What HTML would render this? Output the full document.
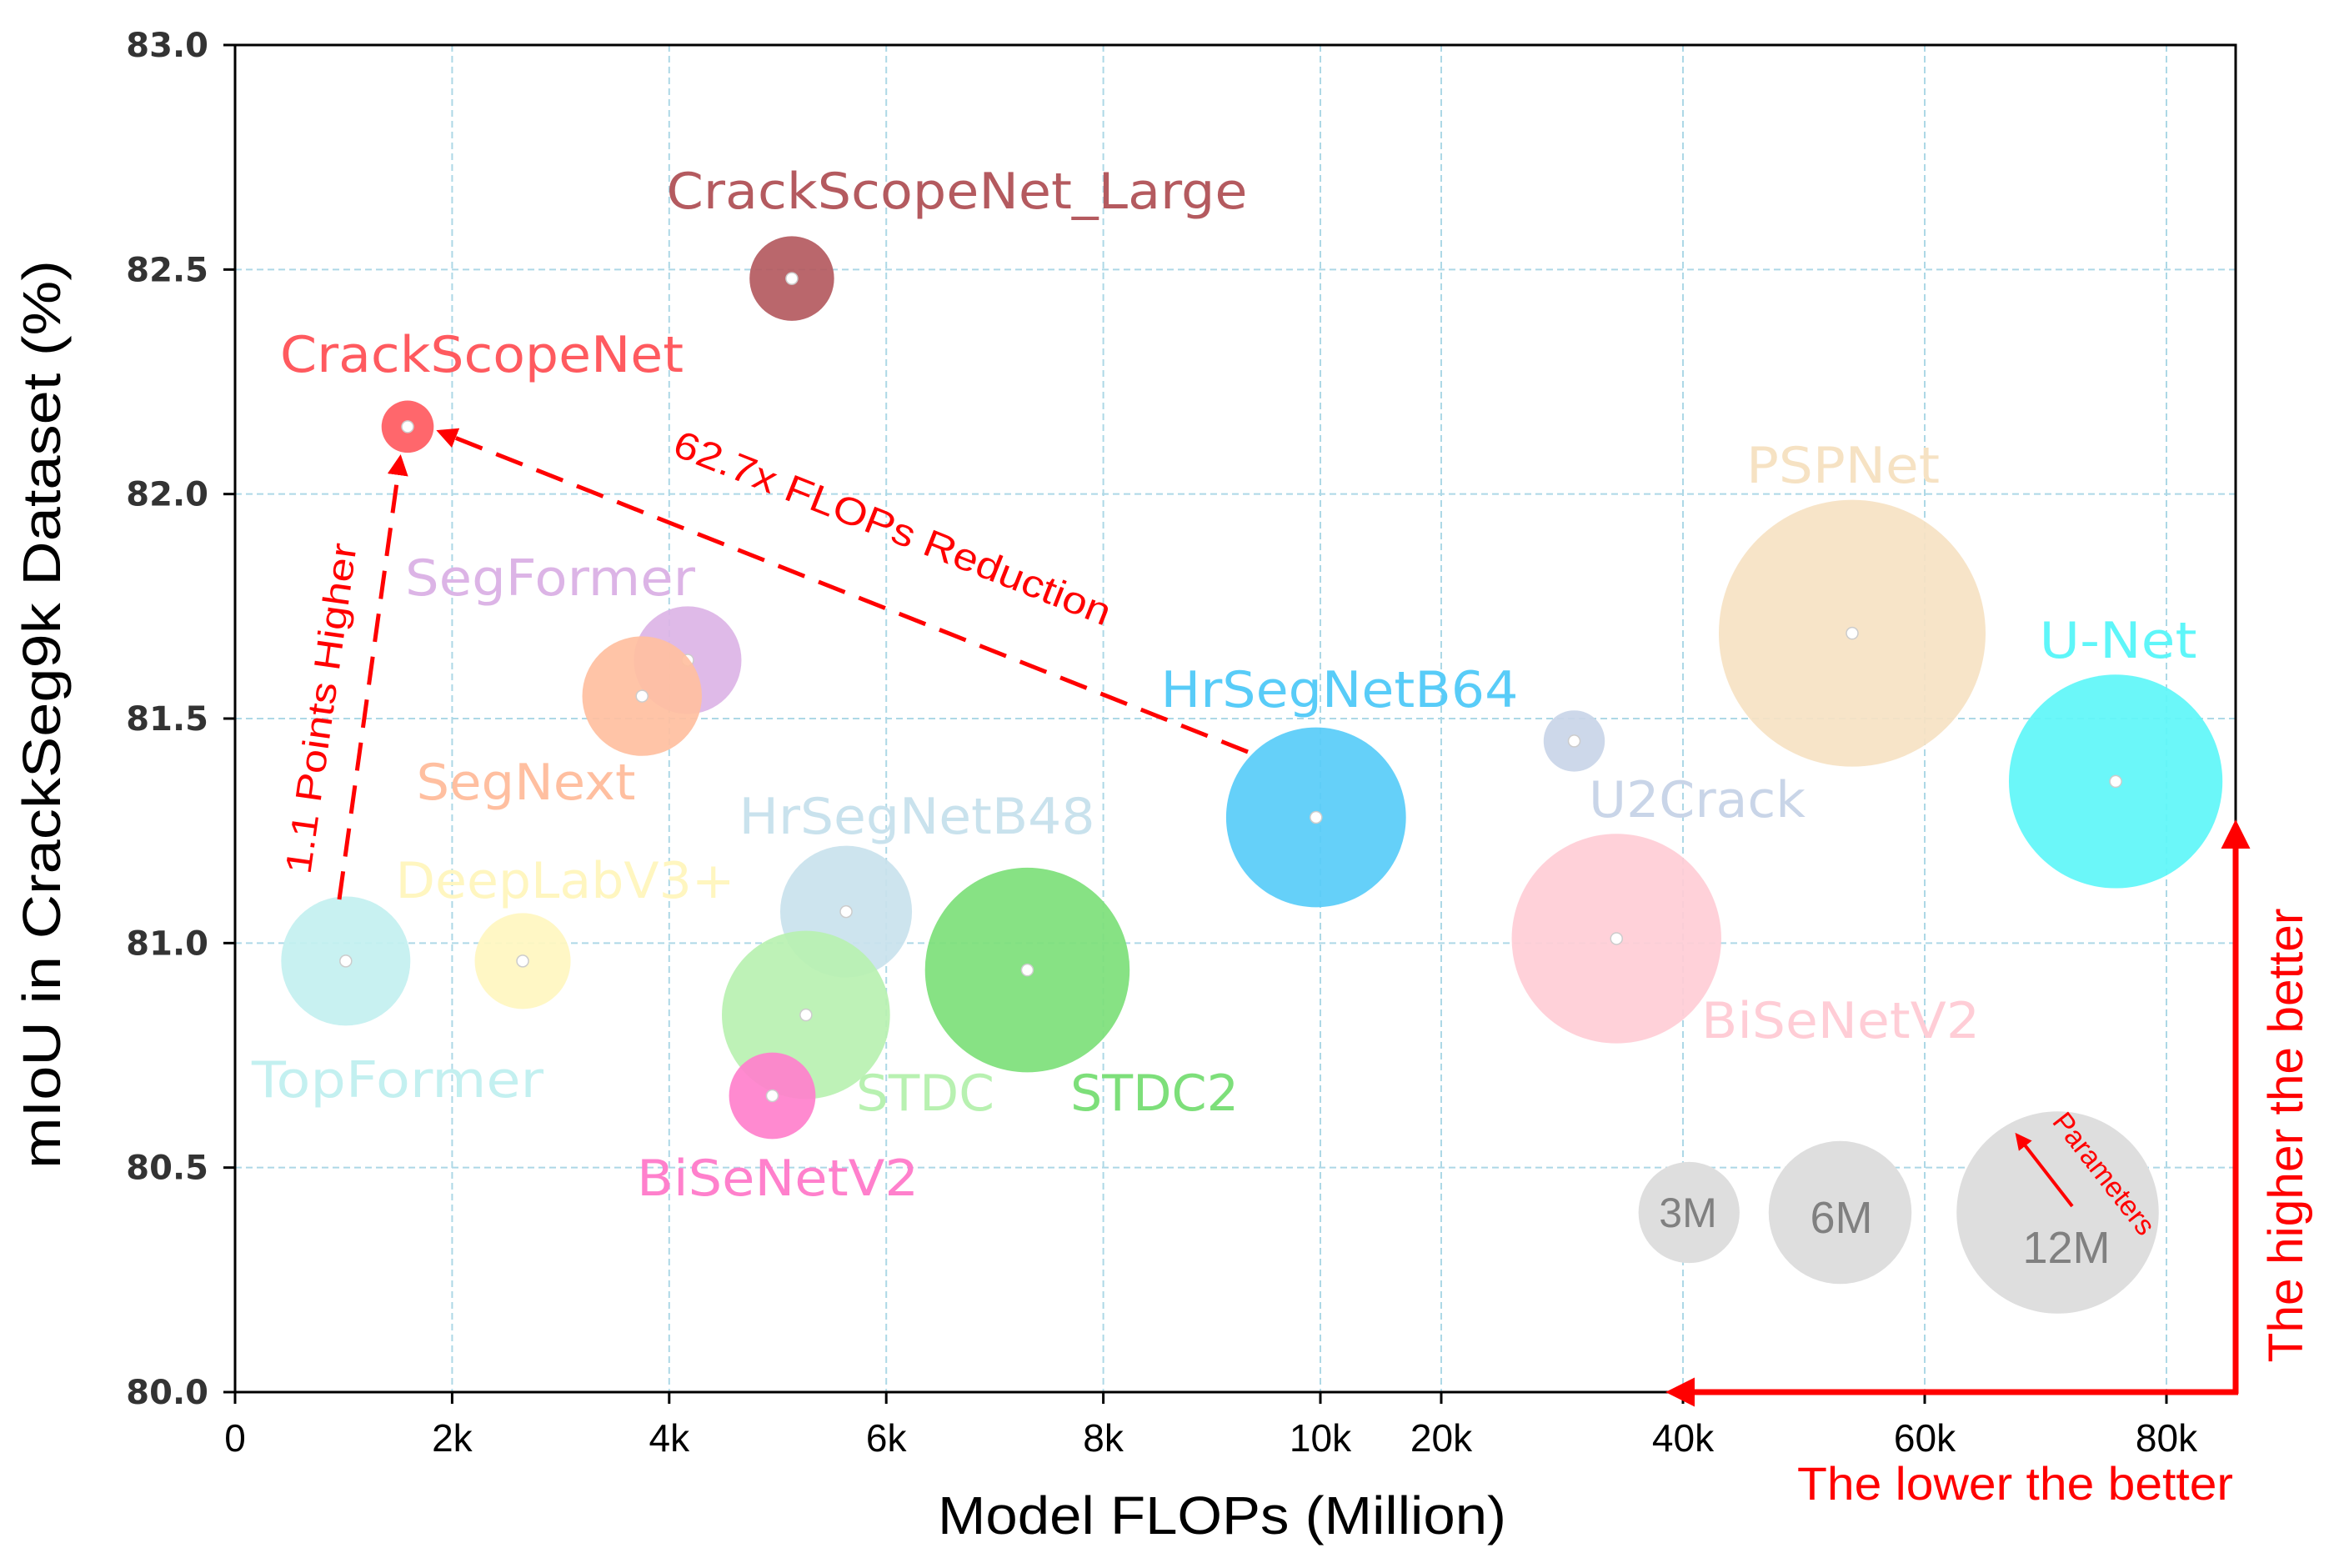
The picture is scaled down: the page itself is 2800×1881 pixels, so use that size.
<!DOCTYPE html>
<html><head><meta charset="utf-8"><style>
html,body{margin:0;padding:0;background:#fff;}
svg{display:block;}
</style></head><body>
<svg id="chart" width="2800" height="1881" viewBox="0 0 2800 1881" xmlns="http://www.w3.org/2000/svg">
<defs>
<marker id="ah" viewBox="0 0 10 10" refX="8" refY="5" markerWidth="5" markerHeight="5" orient="auto"><path d="M0,0 L10,5 L0,10 z" fill="#ff0000"/></marker>
</defs>
<g id="grid"></g>
<g id="bubbles"></g>
<g id="labels"></g>
<g id="axes"></g>
<g id="annot">
  <line x1="407" y1="1079" x2="480" y2="550" stroke="#ff0000" stroke-width="5" stroke-dasharray="34,18" marker-end="url(#ah)"/>
  <text transform="translate(400,852) rotate(-82)" text-anchor="middle" font-family="Liberation Sans, sans-serif" font-size="44" fill="#ff0000" textLength="400" lengthAdjust="spacingAndGlyphs">1.1 Points Higher</text>
  <line x1="1497" y1="902" x2="528" y2="518" stroke="#ff0000" stroke-width="5" stroke-dasharray="34,18" marker-end="url(#ah)"/>
  <text transform="translate(1065,648) rotate(21.6)" text-anchor="middle" font-family="Liberation Sans, sans-serif" font-size="46" fill="#ff0000" textLength="560" lengthAdjust="spacingAndGlyphs">62.7x  FLOPs Reduction</text>
  <line x1="2486" y1="1447" x2="2420" y2="1362" stroke="#ff0000" stroke-width="4" marker-end="url(#ah)"/>
  <text transform="translate(2515,1415) rotate(52)" text-anchor="middle" font-family="Liberation Sans, sans-serif" font-size="34" fill="#ff0000">Parameters</text>
  <line x1="2682" y1="1672" x2="2682" y2="990" stroke="#ff0000" stroke-width="7" marker-end="url(#ah)"/>
  <line x1="2685" y1="1670" x2="2005" y2="1670" stroke="#ff0000" stroke-width="7" marker-end="url(#ah)"/>
  <text transform="translate(2762,1362) rotate(-90)" text-anchor="middle" font-family="Liberation Sans, sans-serif" font-size="58" fill="#ff0000" textLength="545" lengthAdjust="spacingAndGlyphs">The higher the better</text>
  <text x="2156" y="1799" font-family="Liberation Sans, sans-serif" font-size="56" fill="#ff0000" textLength="523" lengthAdjust="spacingAndGlyphs">The lower the better</text>
</g>
<text x="1125" y="1840" font-family="Liberation Sans, sans-serif" font-size="64" fill="#000" textLength="682" lengthAdjust="spacingAndGlyphs">Model FLOPs (Million)</text>
<text transform="translate(72,857) rotate(-90)" text-anchor="middle" font-family="Liberation Sans, sans-serif" font-size="64" fill="#000" textLength="1090" lengthAdjust="spacingAndGlyphs">mIoU  in  CrackSeg9k  Dataset  (%)</text>
</svg>
<script>
const xTicks = [0, 2, 4, 6, 8, 10, 20, 40, 60, 80];
const xTickLabels = ['0', '2k', '4k', '6k', '8k', '10k', '20k', '40k', '60k', '80k'];
const yTicks = [80.0, 80.5, 81.0, 81.5, 82.0, 82.5, 83.0];
const yTickLabels = ['80.0', '80.5', '81.0', '81.5', '82.0', '82.5', '83.0'];
const modelNames = ['CrackScopeNet_Large','CrackScopeNet','SegFormer','SegNext','TopFormer','DeepLabV3+','HrSegNetB48','STDC','BiSeNetV2','STDC2','HrSegNetB64','U2Crack','BiSeNetV2','PSPNet','U-Net'];
const flopsK = [5.13, 1.59, 4.17, 3.75, 1.02, 2.65, 5.63, 5.26, 4.95, 7.3, 9.96, 31, 34.5, 54, 75.8];
const miou = [82.48, 82.15, 81.63, 81.55, 80.96, 80.96, 81.07, 80.84, 80.66, 80.94, 81.28, 81.45, 81.01, 81.69, 81.36];
const paramsM = [2.1, 0.8, 3.4, 4.2, 4.9, 2.7, 5.1, 8.3, 2.2, 12.3, 9.5, 1.1, 12.9, 20.9, 13.4];
const colors = ['#b45a5f','#ff5a5f','#dcb4e6','#ffbfa0','#c3f0f0','#fff6c0','#c9e2ed','#b8f1b1','#ff80cc','#7ddf7a','#58ccf8','#c9d5e8','#ffcdd6','#f6e2c3','#5ef6f9'];
const legendParams = [3, 6, 12];
const legendFlopsK = [40.5, 53, 71];
const legendMiou = [80.4, 80.4, 80.4];
const legendLabels = ['3M','6M','12M'];

const NS='http://www.w3.org/2000/svg';
const L=282,R=2682,T=54,B=1670;
function xScale(v){ return v<=10 ? L+130.2*v : 1584+14.5*(v-10); }
function yScale(v){ return B-(v-80)/3*(B-T); }
function rScale(p){ return 35*Math.sqrt(p); }
function mk(tag,attrs,parent){const e=document.createElementNS(NS,tag);for(const k in attrs)e.setAttribute(k,attrs[k]);parent.appendChild(e);return e;}

const grid=document.getElementById('grid'), axes=document.getElementById('axes');
xTicks.forEach((t,i)=>{
  const x=xScale(t);
  const g=mk('line',{x1:x,x2:x,y1:T,y2:B,stroke:'#add8e6','stroke-width':2,'stroke-dasharray':'8,5'},grid);
  
  
  const tk=mk('line',{x1:x,x2:x,y1:B,y2:B+14,stroke:'#000','stroke-width':3},axes);
  
  
  const tx=mk('text',{x:x,y:1741,'text-anchor':'middle','font-family':'Liberation Sans, sans-serif','font-size':46,fill:'#000'},axes);
  tx.textContent=xTickLabels[i];
  
  
});
yTicks.forEach((t,i)=>{
  const y=yScale(t);
  const g=mk('line',{x1:L,x2:R,y1:y,y2:y,stroke:'#add8e6','stroke-width':2,'stroke-dasharray':'8,5'},grid);
  
  
  const tk=mk('line',{x1:L-14,x2:L,y1:y,y2:y,stroke:'#000','stroke-width':3},axes);
  
  
  const tx=mk('text',{x:250,y:y+14,'text-anchor':'end','font-family':'DejaVu Sans, sans-serif','font-size':40,'font-weight':'bold',fill:'#333'},axes);
  tx.textContent=yTickLabels[i];
  
  
});
const frame=mk('rect',{x:L,y:T,width:R-L,height:B-T,fill:'none',stroke:'#000','stroke-width':3},axes);



const bub=document.getElementById('bubbles');
modelNames.forEach((n,i)=>{
  const cx=xScale(flopsK[i]), cy=yScale(miou[i]);
  const c=mk('circle',{cx:cx,cy:cy,r:rScale(paramsM[i]),fill:colors[i],'fill-opacity':0.92},bub);
  
  
  const d=mk('circle',{cx:cx,cy:cy,r:7,fill:'#fff',stroke:'#ccc','stroke-width':1.5},bub);
  
  
});
legendParams.forEach((p,i)=>{
  const cx=xScale(legendFlopsK[i]), cy=yScale(legendMiou[i]);
  const c=mk('circle',{cx:cx,cy:cy,r:rScale(p),fill:'#dedede'},bub);
  
  
});

// label text positions (layout)
const labelPos=[[1148,250,697],[578,446,484],[660,714,348],[631,959,263],[477,1316,350],[678,1077,407],[1100,1000,427],[1110,1332,166],[933,1434,338],[1385,1332,202],[1607,848,429],[2036,980,260],[2208,1245,334],[2211,579,232],[2541,789,189]];
const labG=document.getElementById('labels');
modelNames.forEach((n,i)=>{
  const p=labelPos[i];
  const t=mk('text',{x:p[0],y:p[1],'text-anchor':'middle','font-family':'DejaVu Sans, sans-serif','font-size':60,fill:colors[i],textLength:p[2],lengthAdjust:'spacingAndGlyphs'},labG);
  t.textContent=n;
  
  
});
const legTxt=[[2025,1472,50],[2209,1479,54],[2479,1515,54]];
legendLabels.forEach((s,i)=>{
  const t=mk('text',{x:legTxt[i][0],y:legTxt[i][1],'text-anchor':'middle','font-family':'Liberation Sans, sans-serif','font-size':legTxt[i][2],fill:'#808080'},labG);
  t.textContent=s;
  
  
});
</script>
</body></html>
